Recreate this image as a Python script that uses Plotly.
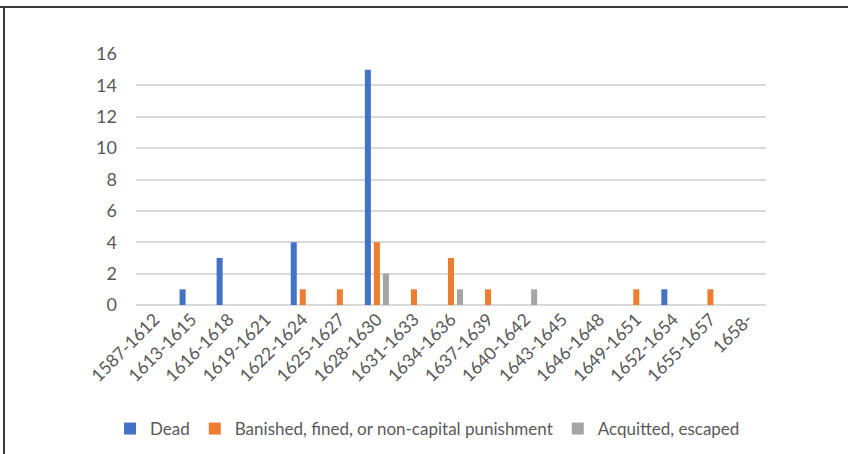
import plotly.graph_objects as go

periods = ["1587-1612", "1613-1615", "1616-1618", "1619-1621", "1622-1624",
           "1625-1627", "1628-1630", "1631-1633", "1634-1636", "1637-1639",
           "1640-1642", "1643-1645", "1646-1648", "1649-1651", "1652-1654",
           "1655-1657", "1658-"]
dead = [0, 1, 3, 0, 4, 0, 15, 0, 0, 0, 0, 0, 0, 0, 1, 0, 0]
banished = [0, 0, 0, 0, 1, 1, 4, 1, 3, 1, 0, 0, 0, 1, 0, 1, 0]
acquitted = [0, 0, 0, 0, 0, 0, 2, 0, 1, 0, 1, 0, 0, 0, 0, 0, 0]
y_ticks = [0, 2, 4, 6, 8, 10, 12, 14, 16]

series = [
    ("Dead", dead, "#4472C4"),
    ("Banished, fined, or non-capital punishment", banished, "#ED7D31"),
    ("Acquitted, escaped", acquitted, "#A5A5A5"),
]

fig = go.Figure()
for name, vals, color in series:
    fig.add_trace(go.Bar(x=periods, y=vals, name=name, marker_color=color,
                         marker_line_width=0))

font_family = "Lato, Carlito, Calibri, sans-serif"
fig.update_layout(
    width=848, height=454,
    margin=dict(l=136, r=82, t=54, b=149, autoexpand=False),
    paper_bgcolor="white", plot_bgcolor="white",
    barmode="group", bargap=0.27, bargroupgap=0.33,
    font=dict(family=font_family, size=17, color="#595959"),
    showlegend=True,
    legend=dict(orientation="h", x=(110 - 136) / 630, xanchor="left",
                y=-0.494, yanchor="middle",
                font=dict(size=17, color="#595959"),
                traceorder="normal", itemwidth=30, tracegroupgap=0),
    xaxis=dict(tickangle=-45, showgrid=False, showline=False, ticks="",
               tickfont=dict(size=17.5, color="#595959")),
    yaxis=dict(range=[0, 16], tickvals=y_ticks, showgrid=True,
               gridcolor="#D9D9D9", gridwidth=1.5, zeroline=True,
               zerolinecolor="#D9D9D9", zerolinewidth=1.5, showline=False,
               ticks="", ticklabelstandoff=18,
               tickfont=dict(size=18, color="#595959")),
    shapes=[
        dict(type="line", xref="paper", yref="paper", x0=-0.3, x1=1.2,
             y0=(305 - 7) / 251, y1=(305 - 7) / 251,
             line=dict(color="#3A3A3A", width=2)),
        dict(type="line", xref="paper", yref="paper", x0=(4 - 136) / 630,
             x1=(4 - 136) / 630, y0=(305 - 7) / 251, y1=-0.7,
             line=dict(color="#3A3A3A", width=2)),
    ],
)

fig.write_html("out.html")
